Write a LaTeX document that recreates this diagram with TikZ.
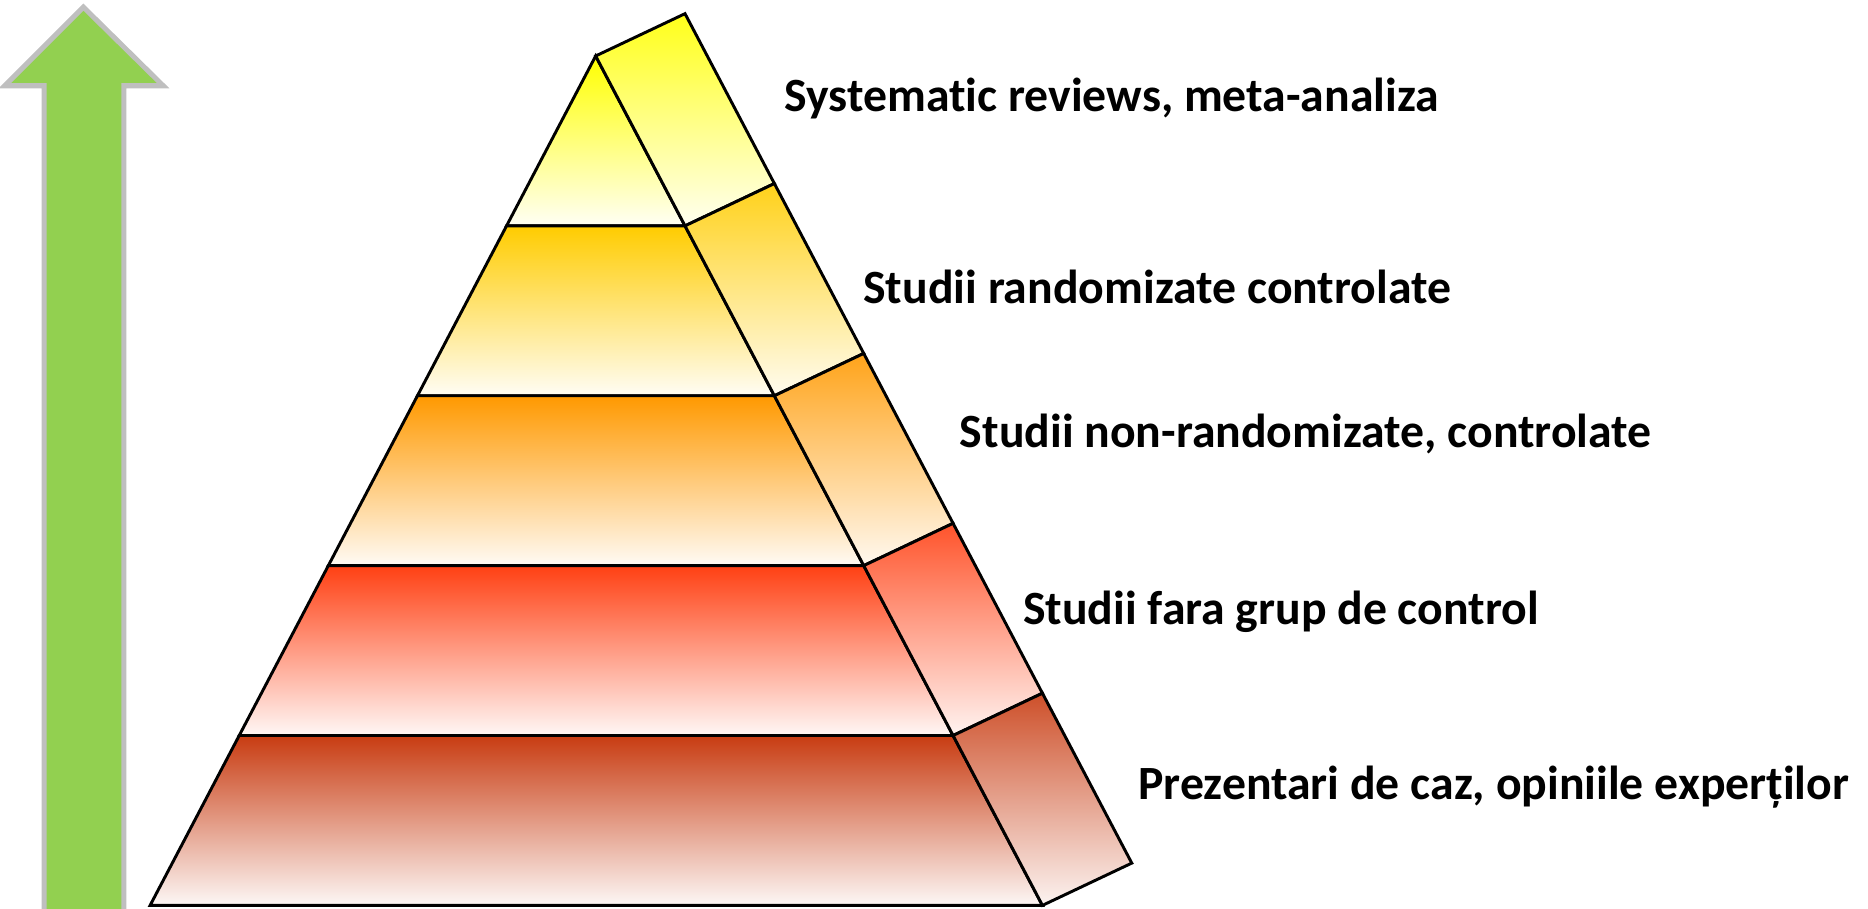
\documentclass[tikz,border=0pt]{standalone}
\usepackage{fontspec}
\setmainfont{Carlito}[Ligatures=NoCommon]

\definecolor{lvA}{HTML}{FFFF00}
\definecolor{lvB}{HTML}{FFCC00}
\definecolor{lvC}{HTML}{FF9900}
\definecolor{lvD}{HTML}{FF4013}
\definecolor{lvE}{HTML}{C83C12}
\definecolor{upgreen}{HTML}{92D050}
\definecolor{upgray}{HTML}{BFBFBF}

\begin{document}
\begin{tikzpicture}
  \tikzset{layer/.style = {draw=black,line width=0.7pt,line join=miter}}
  \tikzset{levtext/.style = {anchor=base west,inner sep=0pt,font=\bfseries\fontsize{11.4}{13}\selectfont}}
  \tikzset{uparrow/.style = {fill=upgreen,draw=upgray,line width=1.2pt}}

  \useasboundingbox (0,0) rectangle (15.68,7.63);

  % arrow on the left
  \draw[uparrow] (0.37,-0.2) -- (0.37,6.91) -- (0.04,6.91) -- (0.70,7.57)
    -- (1.37,6.91) -- (1.04,6.91) -- (1.04,-0.2) -- cycle;

  % corners of the pyramid, level 0 is the top
  \foreach \k in {0,...,5} {
    \coordinate (fl\k) at ({5-0.748*\k},{7.16-1.426*\k});
    \coordinate (fr\k) at ({5+0.75*\k},{7.16-1.426*\k});
    \coordinate (br\k) at ({5.75+0.75*\k},{7.515-1.426*\k});
  }

  \foreach \i/\col in {1/lvA,2/lvB,3/lvC,4/lvD,5/lvE} {
    \pgfmathtruncatemacro\j{\i-1}
    \draw[layer,top color=\col,bottom color=\col!4!white]
      (fl\j) -- (fr\j) -- (fr\i) -- (fl\i) -- cycle;
    \draw[layer,top color=\col!90!white,bottom color=\col!6!white]
      (fr\j) -- (br\j) -- (br\i) -- (fr\i) -- cycle;
  }

  \node[levtext] (sys) at (6.58,6.695) {Systematic reviews, meta-analiza};
  \node[levtext] (rct) at (7.24,5.08) {Studii randomizate controlate};
  \node[levtext] (nrct) at (8.05,3.87) {Studii non-randomizate, controlate};
  \node[levtext] (nctl) at (8.58,2.39) {Studii fara grup de control};
  \node[levtext] (caz) at (9.55,0.92) {Prezentari de caz, opiniile experților};

\end{tikzpicture}
\end{document}
